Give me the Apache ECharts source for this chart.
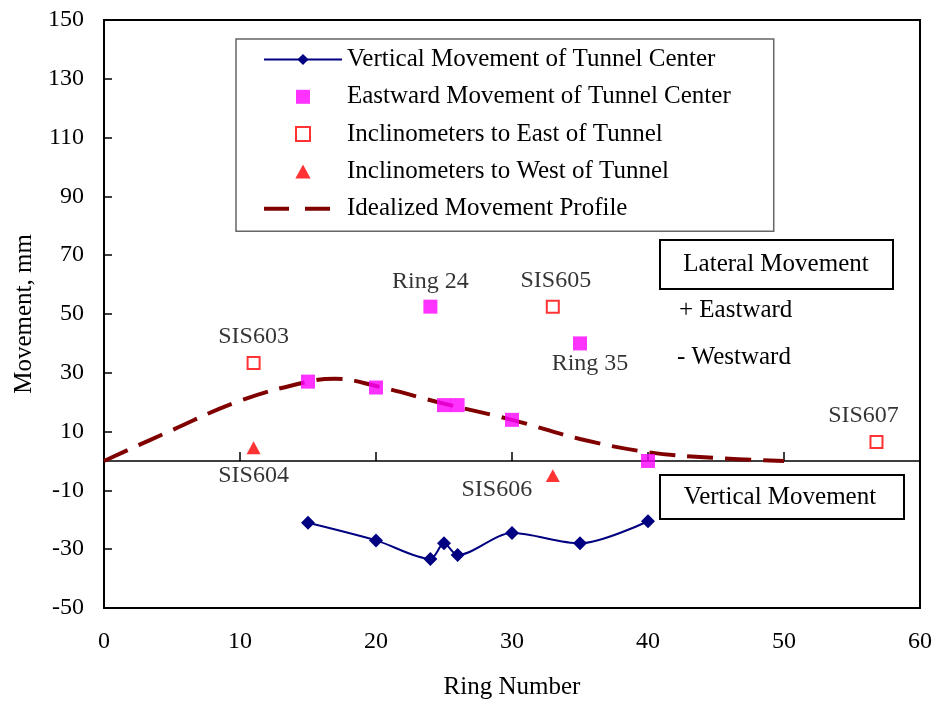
<!DOCTYPE html>
<html>
<head>
<meta charset="utf-8">
<script src="https://cdn.jsdelivr.net/npm/echarts@6/dist/echarts.min.js"></script>
<style>
  html, body { margin: 0; padding: 0; background: #fff; }
  #chart { width: 939px; height: 705px; }
</style>
</head>
<body>
<div id="chart"></div>
<script>
  // data
  const verticalMove = [[15, -21], [20, -27], [24, -33.3], [25, -28], [26, -32], [30, -24.5], [35, -28], [40, -20.5]]
  const eastwardMove = [[15, 27], [20, 25], [24, 52.5], [25, 19], [26, 19], [30, 14], [35, 40], [40, 0]]
  const inclEast = [[11, 33.3], [33, 52.5], [56.8, 6.5]]
  const inclEastNames = ['SIS603', 'SIS605', 'SIS607']
  const inclWest = [[11, 4.5], [33, -5]]
  const inclWestNames = ['SIS604', 'SIS606']
  const profileX = [0, 5, 10, 15, 17, 20, 25, 30, 35, 40, 45, 50]
  const profileY = [0, 10.5, 20.5, 27, 28, 25.5, 19.5, 14, 7.5, 3, 1, 0]

  const FONT = 'Liberation Serif'
  const SQUARE = 'path://M0,0H10V10H0Z'
  const TRIANGLE = 'path://M6,0L12,11H0Z'
  const chart = echarts.init(document.getElementById('chart'))

  const option = {
    backgroundColor: '#fff',
    animation: false,
    grid: {
      left: 104, right: 19, top: 20, bottom: 94,
      show: true,
      borderColor: '#000',
      borderWidth: 2
    },
    legend: {
      orient: 'vertical',
      left: 236,
      top: 39,
      padding: [8, 43, 10, 26],
      itemGap: 12.3,
      itemWidth: 78,
      itemHeight: 14,
      symbolKeepAspect: true,
      borderColor: '#666',
      borderWidth: 1.5,
      textStyle: { fontFamily: FONT, fontSize: 25, color: '#000' },
      data: [
        { name: 'Vertical Movement of Tunnel Center' },
        { name: 'Eastward Movement of Tunnel Center' },
        { name: 'Inclinometers to East of Tunnel' },
        { name: 'Inclinometers to West of Tunnel' },
        {
          name: 'Idealized Movement Profile',
          itemStyle: { opacity: 0 },
          lineStyle: { color: '#800000', width: 4, type: [25, 16] }
        }
      ]
    },
    xAxis: [
      {
        type: 'value',
        min: 0, max: 60, interval: 10,
        name: 'Ring Number',
        nameLocation: 'middle',
        nameGap: 67,
        nameTextStyle: { fontFamily: FONT, fontSize: 25, color: '#000' },
        axisLine: { onZero: false, lineStyle: { color: '#000', width: 2 } },
        axisTick: { show: false },
        axisLabel: { fontFamily: FONT, fontSize: 24, color: '#000', margin: 22 },
        splitLine: { show: false }
      },
      {
        // the zero line with its inner ticks
        type: 'value',
        min: 0, max: 60, interval: 10,
        position: 'bottom',
        axisLine: { onZero: true, lineStyle: { color: '#000', width: 1.5 } },
        axisTick: { inside: true, length: 9, lineStyle: { color: '#000', width: 1.5 } },
        axisLabel: { show: false },
        splitLine: { show: false }
      }
    ],
    yAxis: {
      type: 'value',
      min: -50, max: 150, interval: 20,
      name: 'Movement, mm',
      nameLocation: 'middle',
      nameGap: 66,
      nameTextStyle: { fontFamily: FONT, fontSize: 25, color: '#000' },
      axisLine: { onZero: false, lineStyle: { color: '#000', width: 2 } },
      axisTick: { inside: true, length: 8, lineStyle: { color: '#000', width: 1.5 } },
      axisLabel: { fontFamily: FONT, fontSize: 24, color: '#000', margin: 20 },
      splitLine: { show: false }
    },
    series: [
      {
        name: 'Vertical Movement of Tunnel Center',
        type: 'line',
        data: verticalMove,
        smooth: 0.3,
        symbol: 'diamond',
        symbolSize: 14,
        lineStyle: { color: '#000080', width: 2 },
        itemStyle: { color: '#000080' },
        z: 3
      },
      {
        name: 'Eastward Movement of Tunnel Center',
        type: 'scatter',
        data: eastwardMove.map(p => {
          const d = { value: p }
          if (p[0] === 24) d.label = { show: true, formatter: 'Ring 24', position: 'top', distance: 6 }
          if (p[0] === 35) d.label = { show: true, formatter: 'Ring 35', position: 'bottom', distance: 1, offset: [10, 0] }
          return d
        }),
        symbol: SQUARE,
        symbolSize: 14,
        symbolKeepAspect: true,
        itemStyle: { color: '#ff00ff' },
        label: { fontFamily: FONT, fontSize: 24, color: '#000' },
        z: 5
      },
      {
        name: 'Inclinometers to East of Tunnel',
        type: 'scatter',
        data: inclEast.map((p, i) => ({
          value: p,
          label: { show: true, formatter: inclEastNames[i], position: 'top', distance: 7,
            offset: i === 2 ? [-13, 0] : (i === 1 ? [3, 0] : [0, 0]) }
        })),
        symbol: SQUARE,
        symbolSize: 12,
        symbolKeepAspect: true,
        itemStyle: { color: '#fff', borderColor: '#ff0000', borderWidth: 2 },
        label: { fontFamily: FONT, fontSize: 24, color: '#000' },
        z: 5
      },
      {
        name: 'Inclinometers to West of Tunnel',
        type: 'scatter',
        data: inclWest.map((p, i) => ({
          value: p,
          label: { show: true, formatter: inclWestNames[i], position: 'bottom', distance: 10,
            offset: i === 1 ? [-56, -14] : [0, 0] }
        })),
        symbol: TRIANGLE,
        symbolSize: 14,
        symbolKeepAspect: true,
        itemStyle: { color: '#ff0000' },
        label: { fontFamily: FONT, fontSize: 24, color: '#000' },
        z: 5
      },
      {
        name: 'Idealized Movement Profile',
        type: 'line',
        data: profileX.map((x, i) => [x, profileY[i]]),
        smooth: 0.4,
        symbol: 'none',
        lineStyle: { color: '#800000', width: 4, type: [26, 12] },
        itemStyle: { color: '#800000' },
        z: 2
      }
    ],
    graphic: [
      {
        type: 'rect',
        shape: { x: 660, y: 240, width: 233, height: 49 },
        style: { fill: '#fff', stroke: '#000', lineWidth: 2 },
        z: 10
      },
      {
        type: 'text',
        x: 776, y: 264,
        style: { text: 'Lateral Movement', font: '25px ' + FONT, fill: '#000', align: 'center', verticalAlign: 'middle' },
        z: 11
      },
      {
        type: 'text',
        x: 679, y: 310,
        style: { text: '+ Eastward', font: '25px ' + FONT, fill: '#000', align: 'left', verticalAlign: 'middle' },
        z: 11
      },
      {
        type: 'text',
        x: 677, y: 357,
        style: { text: '- Westward', font: '25px ' + FONT, fill: '#000', align: 'left', verticalAlign: 'middle' },
        z: 11
      },
      {
        type: 'rect',
        shape: { x: 660, y: 475, width: 244, height: 44 },
        style: { fill: '#fff', stroke: '#000', lineWidth: 2 },
        z: 10
      },
      {
        type: 'text',
        x: 780, y: 497,
        style: { text: 'Vertical Movement', font: '25px ' + FONT, fill: '#000', align: 'center', verticalAlign: 'middle' },
        z: 11
      }
    ]
  }

  chart.setOption(option)
</script>
</body>
</html>
